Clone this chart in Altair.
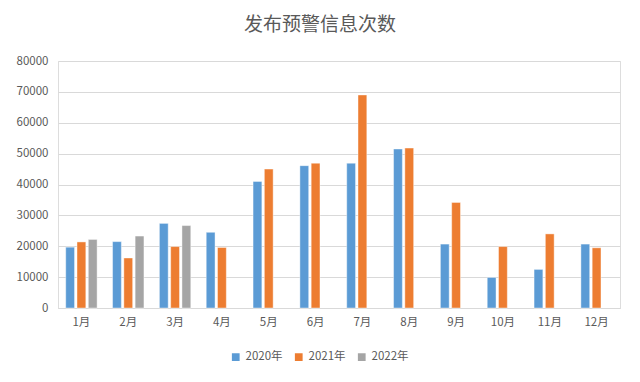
import altair as alt
import pandas as pd

months = ["1月", "2月", "3月", "4月", "5月", "6月", "7月", "8月", "9月", "10月", "11月", "12月"]
years = ["2020年", "2021年", "2022年"]
v2020 = [19700, 21500, 27400, 24500, 41000, 46100, 46900, 51500, 20700, 9900, 12500, 20700]
v2021 = [21400, 16200, 19900, 19600, 45000, 46900, 69000, 51800, 34200, 19900, 24000, 19500]
v2022 = [22200, 23300, 26700, None, None, None, None, None, None, None, None, None]
colors = ["#5B9BD5", "#ED7D31", "#A5A5A5"]

rows = []
for series, vals in zip(years, [v2020, v2021, v2022]):
    for m, v in zip(months, vals):
        if v is not None:
            rows.append({"月份": m, "年份": series, "次数": v})
df = pd.DataFrame(rows)

FONT = "Noto Sans CJK SC"

chart = alt.Chart(df).mark_bar(stroke="white", strokeWidth=0.6, strokeOpacity=0.7).encode(
    x=alt.X("月份:N", sort=months, title=None,
            scale=alt.Scale(paddingInner=0.33, paddingOuter=0.165),
            axis=alt.Axis(labelAngle=0, domainColor="#D9D9D9", domainWidth=1, ticks=False,
                          labelPadding=8, labelFontSize=11.5, labelColor="#595959", labelFont=FONT)),
    xOffset=alt.XOffset("年份:N", sort=years, scale=alt.Scale(domain=years, paddingInner=0.22, paddingOuter=0)),
    y=alt.Y("次数:Q", title=None,
            scale=alt.Scale(domain=[0, 80000], nice=False),
            axis=alt.Axis(values=list(range(0, 80001, 10000)), format="d", domain=False, ticks=False,
                          gridColor="#D9D9D9", gridWidth=1, labelPadding=10,
                          labelFontSize=11.5, labelColor="#595959", labelFont=FONT)),
    color=alt.Color("年份:N", sort=years,
                    scale=alt.Scale(domain=years, range=colors),
                    legend=alt.Legend(title=None, orient="none", direction="horizontal",
                                      legendX=172, legendY=290, symbolType="square",
                                      symbolSize=60, symbolStrokeWidth=0, labelFontSize=11.5,
                                      labelColor="#595959", labelFont=FONT, columnPadding=10,
                                      labelOffset=4)),
).properties(
    width=562,
    height=247,
    padding={"left": 50, "top": 53, "right": 12, "bottom": 66},
    autosize=alt.AutoSizeParams(type="none"),
    title=alt.TitleParams("发布预警信息次数", font=FONT, fontSize=19, fontWeight="normal",
                          color="#595959", anchor="middle", dx=-19, offset=20),
).configure_view(stroke=None).configure(background="white")

chart.save("out.html", embed_options={"renderer": "svg", "actions": False})
